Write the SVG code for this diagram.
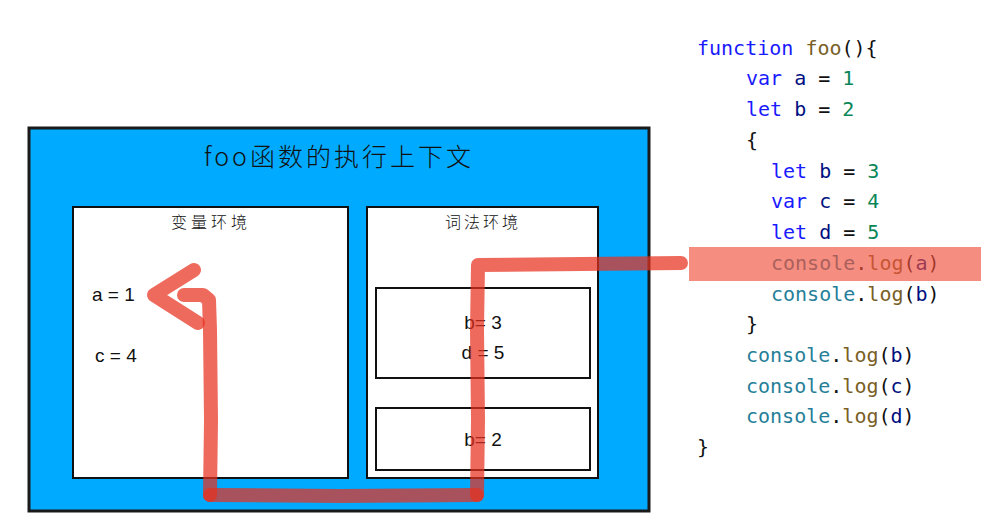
<svg xmlns="http://www.w3.org/2000/svg" width="989" height="526" viewBox="0 0 989 526">
<style>
.code{font-family:"DejaVu Sans Mono","Liberation Mono",monospace;font-size:20px;fill:#111}
.kw{fill:#1a1aff}.fn{fill:#795e26}.num{fill:#098658}.id{fill:#001080}.obj{fill:#267f99}
.hand{font-family:"Liberation Sans","Noto Sans CJK SC",sans-serif;fill:#111}
.cjk{font-family:"Noto Sans CJK SC","Liberation Sans",sans-serif;fill:#111;font-weight:300}
.box{fill:#fff;stroke:#111;stroke-width:2}
.trail{fill:none;stroke:#e8301f;stroke-opacity:0.72;stroke-width:14;stroke-linecap:round;stroke-linejoin:round}
</style>
<rect width="989" height="526" fill="#fff"/>
<g id="context">
<rect x="29" y="128" width="620" height="383" fill="#00aaff" stroke="#1a1a1a" stroke-width="3"/>
<text class="cjk" x="339" y="166" font-size="25" letter-spacing="3" text-anchor="middle">foo函数的执行上下文</text>
</g>
<g id="variable-env">
<rect class="box" x="73" y="207" width="275" height="271"/>
<text class="cjk" x="211" y="228" font-size="16" letter-spacing="4" text-anchor="middle">变量环境</text>
<text class="hand" x="92" y="301" font-size="19">a = 1</text>
<text class="hand" x="95" y="362" font-size="19">c = 4</text>
</g>
<g id="lexical-env">
<rect class="box" x="367" y="207" width="231" height="271"/>
<text class="cjk" x="483" y="228" font-size="16" letter-spacing="3" text-anchor="middle">词法环境</text>
</g>
<g id="block-scope">
<rect class="box" x="376" y="288" width="214" height="90"/>
<text class="hand" x="483" y="329" font-size="19" text-anchor="middle">b= 3</text>
<text class="hand" x="483" y="359" font-size="19" text-anchor="middle">d = 5</text>
</g>
<g id="function-scope">
<rect class="box" x="376" y="408" width="214" height="62"/>
<text class="hand" x="483" y="446" font-size="19" text-anchor="middle">b= 2</text>
</g>
<g id="code">
<text class="code" x="697" y="55"><tspan class="kw">function</tspan> <tspan class="fn">foo</tspan>(){</text>
<text class="code" x="746" y="85" xml:space="preserve"><tspan class="kw">var</tspan> <tspan class="id">a</tspan> = <tspan class="num">1</tspan></text>
<text class="code" x="746" y="116" xml:space="preserve"><tspan class="kw">let</tspan> <tspan class="id">b</tspan> = <tspan class="num">2</tspan></text>
<text class="code" x="746" y="147">{</text>
<text class="code" x="771" y="178" xml:space="preserve"><tspan class="kw">let</tspan> <tspan class="id">b</tspan> = <tspan class="num">3</tspan></text>
<text class="code" x="771" y="208" xml:space="preserve"><tspan class="kw">var</tspan> <tspan class="id">c</tspan> = <tspan class="num">4</tspan></text>
<text class="code" x="771" y="239" xml:space="preserve"><tspan class="kw">let</tspan> <tspan class="id">d</tspan> = <tspan class="num">5</tspan></text>
<text class="code" x="771" y="270"><tspan class="obj">console</tspan>.<tspan class="fn">log</tspan>(<tspan class="id">a</tspan>)</text>
<text class="code" x="771" y="301"><tspan class="obj">console</tspan>.<tspan class="fn">log</tspan>(<tspan class="id">b</tspan>)</text>
<text class="code" x="746" y="331">}</text>
<text class="code" x="746" y="362"><tspan class="obj">console</tspan>.<tspan class="fn">log</tspan>(<tspan class="id">b</tspan>)</text>
<text class="code" x="746" y="393"><tspan class="obj">console</tspan>.<tspan class="fn">log</tspan>(<tspan class="id">c</tspan>)</text>
<text class="code" x="746" y="423"><tspan class="obj">console</tspan>.<tspan class="fn">log</tspan>(<tspan class="id">d</tspan>)</text>
<text class="code" x="697" y="454">}</text>
<rect x="689" y="247" width="292" height="34" fill="#f0503c" fill-opacity="0.65"/>
</g>
<g id="connectors">
<path class="trail" d="M681 263 L478 265 L477 330 L478 420 L477 495"/>
<path class="trail" d="M477 495 L340 496 L210 495"/>
<path class="trail" d="M210 495 L211 420 L210 330 L209 300 L203 295 L184 295"/>
<path class="trail" d="M194 270 L154 295 L198 323"/>
</g>
</svg>
